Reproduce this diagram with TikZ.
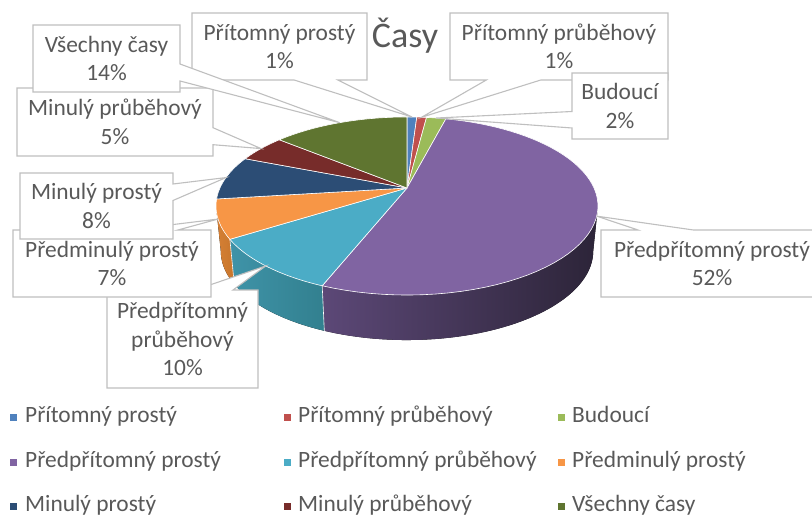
\documentclass[tikz,border=0pt]{standalone}
\usepackage{fontspec}
\setmainfont{Carlito}
\definecolor{cBlue}{HTML}{4F81BD}
\definecolor{cRed}{HTML}{C0504D}
\definecolor{cGreen}{HTML}{9BBB59}
\definecolor{cPurple}{HTML}{8064A2}
\definecolor{cTeal}{HTML}{4BACC6}
\definecolor{cOrange}{HTML}{F79646}
\definecolor{cNavy}{HTML}{2C4D75}
\definecolor{cMaroon}{HTML}{772C2A}
\definecolor{cOlive}{HTML}{5F7530}
\definecolor{sPurL}{HTML}{5C4877}
\definecolor{sPurR}{HTML}{2C2438}
\definecolor{sTealL}{HTML}{3F93A8}
\definecolor{sTealR}{HTML}{32808F}
\definecolor{sOrL}{HTML}{D58035}
\definecolor{sOrR}{HTML}{C8762C}
\definecolor{txt}{HTML}{595959}
\definecolor{bord}{HTML}{BFBFBF}
% callout with the wedge on the bottom / top / left / right edge
\newcommand{\callB}[7]{\filldraw[callout] (#1,#2) -- (#3,#2) -- (#3,#4) -- (#6,#4) -- (#7) -- (#5,#4) -- (#1,#4) -- cycle;}
\newcommand{\callT}[7]{\filldraw[callout] (#1,#2) -- (#5,#2) -- (#7) -- (#6,#2) -- (#3,#2) -- (#3,#4) -- (#1,#4) -- cycle;}
\newcommand{\callL}[7]{\filldraw[callout] (#1,#2) -- (#3,#2) -- (#3,#4) -- (#1,#4) -- (#1,#6) -- (#7) -- (#1,#5) -- cycle;}
\newcommand{\callR}[7]{\filldraw[callout] (#1,#2) -- (#3,#2) -- (#3,#5) -- (#7) -- (#3,#6) -- (#3,#4) -- (#1,#4) -- cycle;}
\begin{document}
\begin{tikzpicture}[x=1pt,y=-1pt,
  declare function={px(\a)=187.05*sin(\a)/(1+0.2022*cos(\a));
                    py(\a)=85.4*cos(\a)/(1+0.2022*cos(\a));
                    bx(\a)=0.975*px(\a);},
  callout/.style={fill=white, draw=bord, line width=1.1pt, line join=miter},
  lbl/.style={text=txt, font=\fontsize{23.4}{28.5}\selectfont, align=center, inner sep=0pt},
  legtxt/.style={text=txt, font=\fontsize{23.4}{28.5}\selectfont, inner sep=0pt, anchor=base west},
  legsq/.style={minimum size=7pt, inner sep=0pt, draw=none},
  rim/.style={draw=white, line width=0.6pt, line join=round}]
\useasboundingbox (0,0) rectangle (812,516);
\clip (0,0) rectangle (812,516);
\coordinate (ctr) at (407,188);
% tips of the callouts: mid points of the outer arcs
\foreach \n/\m in {A/1.8, B/5.4, C/10.8, D/108, E/219.6, F/250.2, G/277.2, H/300.6, I/334.8}
  \coordinate (tip\n) at ({407+px(\m)},{188-py(\m)});
% side walls
\fill[left color=sPurL, right color=sPurR]
  plot[domain=101.67:201.6, samples=60] ({407+px(\x)},{188-py(\x)})
  -- plot[domain=201.6:101.67, samples=60] ({407+bx(\x)},{233-py(\x)}) -- cycle;
\fill[left color=sTealL, right color=sTealR]
  plot[domain=201.6:237.6, samples=30] ({407+px(\x)},{188-py(\x)})
  -- plot[domain=237.6:201.6, samples=30] ({407+bx(\x)},{233-py(\x)}) -- cycle;
\fill[left color=sOrL, right color=sOrR]
  plot[domain=237.6:258.33, samples=20] ({407+px(\x)},{188-py(\x)})
  -- plot[domain=258.33:237.6, samples=20] ({407+bx(\x)},{233-py(\x)}) -- cycle;
\coordinate (s1t) at ({407+px(201.6)},{188-py(201.6)});
\coordinate (s1b) at ({407+bx(201.6)},{233-py(201.6)});
\coordinate (s2t) at ({407+px(237.6)},{188-py(237.6)});
\coordinate (s2b) at ({407+bx(237.6)},{233-py(237.6)});
\draw[white, line width=0.6pt] (s1t) -- (s1b);
\draw[white, line width=0.6pt] (s2t) -- (s2b);
% top of the pie
\foreach \a/\b/\c in {0/3.6/cBlue, 3.6/7.2/cRed, 7.2/14.4/cGreen, 14.4/201.6/cPurple,
    201.6/237.6/cTeal, 237.6/262.8/cOrange, 262.8/291.6/cNavy, 291.6/309.6/cMaroon, 309.6/360/cOlive}
  \filldraw[fill=\c, rim] (ctr) -- plot[domain=\a:\b, samples=60] ({407+px(\x)},{188-py(\x)}) -- cycle;
% title
\node[text=txt, font=\fontsize{36}{43}\selectfont, inner sep=0pt, anchor=base] (title) at (405,48) {Časy};
% callouts, in the order of the series
\callB{192}{13}{367}{80}{294.1}{337.8}{tipA}
\node[lbl] (lA) at (279.5,46.5) {Přítomný prostý\\1\%};
\callB{450}{13}{668}{80}{486.3}{540.8}{tipB}
\node[lbl] (lB) at (559,46.5) {Přítomný průběhový\\1\%};
\callL{572}{73}{668}{139}{111.5}{128}{tipC}
\node[lbl] (lC) at (620,106) {Budoucí\\2\%};
\callT{601}{230}{823}{297}{638}{693.5}{tipD}
\node[lbl] (lD) at (712,263.5) {Předpřítomný prostý\\52\%};
\callT{107}{290}{258}{388}{195}{233}{tipE}
\node[lbl] (lE) at (182.5,339) {Předpřítomný\\průběhový\\10\%};
\callT{13}{230}{211}{297}{128.5}{178}{tipF}
\node[lbl] (lF) at (112,263.5) {Předminulý prostý\\7\%};
\callR{20}{173}{173}{239}{184}{200.5}{tipG}
\node[lbl] (lG) at (96.5,206) {Minulý prostý\\8\%};
\callR{17}{88}{213}{156}{127.7}{144.7}{tipH}
\node[lbl] (lH) at (115,122) {Minulý průběhový\\5\%};
\callR{33}{25}{180}{92}{64}{81}{tipI}
\node[lbl] (lI) at (106.5,58.5) {Všechny časy\\14\%};
% legend
\node[legsq, fill=cBlue]   (q1) at (13,417) {};
\node[legtxt] (t1) at (25,422.5) {Přítomný prostý};
\node[legsq, fill=cRed]    (q2) at (287,417) {};
\node[legtxt] (t2) at (298,422.5) {Přítomný průběhový};
\node[legsq, fill=cGreen]  (q3) at (561,417) {};
\node[legtxt] (t3) at (572,422.5) {Budoucí};
\node[legsq, fill=cPurple] (q4) at (13,462) {};
\node[legtxt] (t4) at (25,467.5) {Předpřítomný prostý};
\node[legsq, fill=cTeal]   (q5) at (287,462) {};
\node[legtxt] (t5) at (298,467.5) {Předpřítomný průběhový};
\node[legsq, fill=cOrange] (q6) at (561,462) {};
\node[legtxt] (t6) at (572,467.5) {Předminulý prostý};
\node[legsq, fill=cNavy]   (q7) at (13,506) {};
\node[legtxt] (t7) at (25,511.5) {Minulý prostý};
\node[legsq, fill=cMaroon] (q8) at (287,506) {};
\node[legtxt] (t8) at (298,511.5) {Minulý průběhový};
\node[legsq, fill=cOlive]  (q9) at (561,506) {};
\node[legtxt] (t9) at (572,511.5) {Všechny časy};
\end{tikzpicture}
\end{document}
